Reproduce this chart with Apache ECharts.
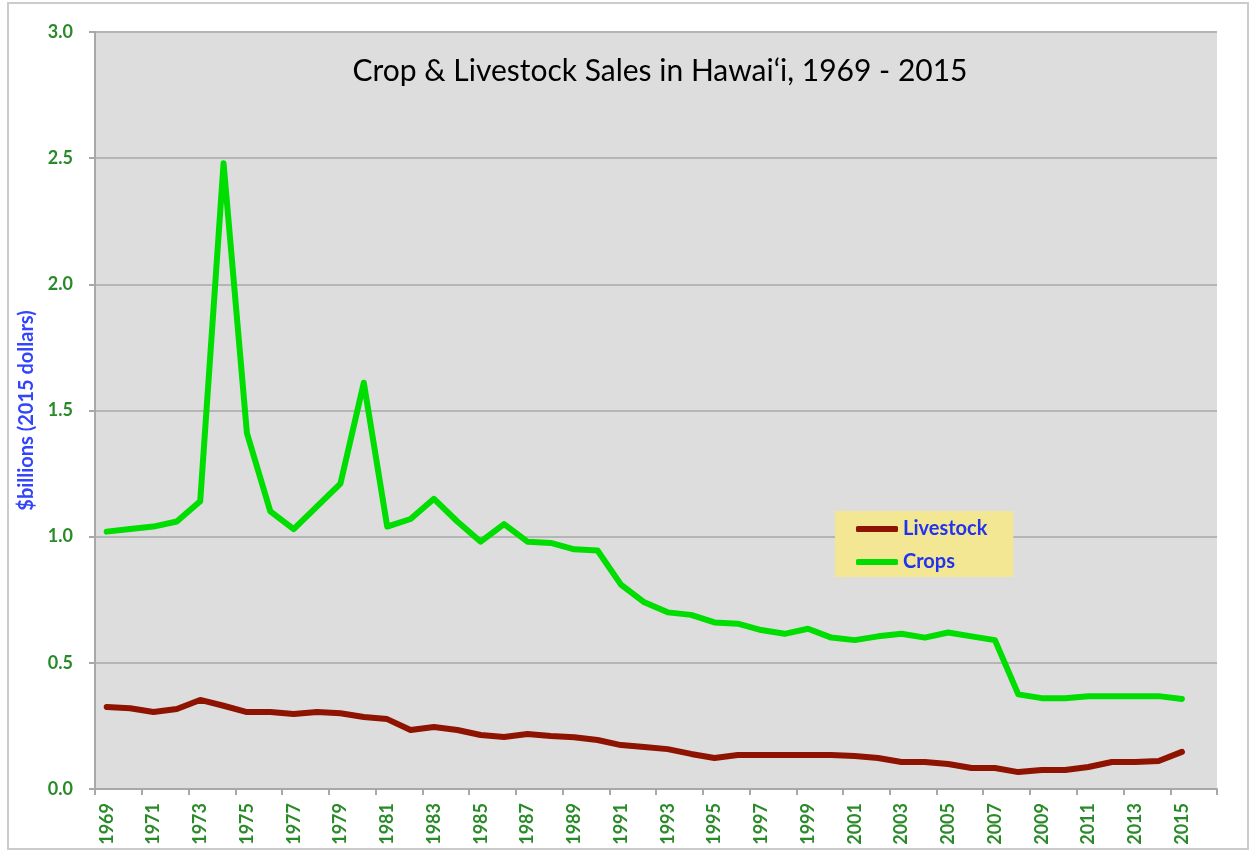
<!DOCTYPE html>
<html>
<head>
<meta charset="utf-8">
<script src="https://cdn.jsdelivr.net/npm/echarts@6/dist/echarts.min.js"></script>
<style>
  html, body { margin: 0; padding: 0; background: #fff; }
  #chart { width: 1251px; height: 852px; }
</style>
</head>
<body>
<div id="chart"></div>
<script>
// years 1969..2016 (last slot is empty, the axis runs one year past the data)
const years = [];
for (let y = 1969; y <= 2016; y++) years.push(String(y));

// $billions, 2015 dollars
const crops = [
  1.02, 1.03, 1.04, 1.06, 1.14, 2.48, 1.41, 1.10, 1.03, 1.12,
  1.21, 1.61, 1.04, 1.07, 1.15, 1.06, 0.98, 1.05, 0.98, 0.975,
  0.95, 0.945, 0.81, 0.74, 0.70, 0.69, 0.66, 0.655, 0.63, 0.615,
  0.635, 0.60, 0.59, 0.605, 0.615, 0.60, 0.62, 0.605, 0.59, 0.375,
  0.36, 0.36, 0.368, 0.368, 0.368, 0.368, 0.357, null
];
const livestock = [
  0.325, 0.32, 0.305, 0.317, 0.353, 0.33, 0.305, 0.305, 0.297, 0.305,
  0.30, 0.285, 0.277, 0.234, 0.246, 0.234, 0.214, 0.206, 0.218, 0.21,
  0.205, 0.194, 0.174, 0.166, 0.158, 0.139, 0.123, 0.135, 0.135, 0.135,
  0.135, 0.135, 0.131, 0.123, 0.107, 0.107, 0.099, 0.083, 0.083, 0.067,
  0.075, 0.075, 0.087, 0.107, 0.107, 0.111, 0.147, null
];

const green = '#00dd00';
const maroon = '#8e1300';
const labelGreen = '#2a8a2a';
const font = 'Lato, "Open Sans", sans-serif';

const chart = echarts.init(document.getElementById('chart'));
chart.setOption({
  animation: false,
  backgroundColor: '#ffffff',
  textStyle: { fontFamily: font },
  graphic: [
    {
      type: 'rect',
      z: -10,
      shape: { x: 8, y: 3, width: 1240, height: 846 },
      style: { fill: 'none', stroke: '#cccccc', lineWidth: 2 }
    }
  ],
  title: {
    text: 'Crop & Livestock Sales in Hawai\u2018i, 1969 - 2015',
    left: 655,
    top: 51,
    textAlign: 'center',
    textStyle: { fontSize: 30, fontWeight: 'normal', color: '#000', fontFamily: font }
  },
  legend: {
    orient: 'vertical',
    left: 835,
    top: 511,
    backgroundColor: '#f3e794',
    padding: [8, 26, 5, 21],
    itemGap: 13,
    itemWidth: 42,
    itemHeight: 6,
    icon: 'roundRect',
    textStyle: { color: '#2233ee', fontWeight: 'bold', fontSize: 20 },
    data: ['Livestock', 'Crops']
  },
  grid: {
    left: 95,
    right: 34,
    top: 32,
    bottom: 63,
    show: true,
    backgroundColor: '#dddddd',
    borderWidth: 0
  },
  xAxis: {
    type: 'category',
    data: years,
    boundaryGap: true,
    axisLine: { show: true, lineStyle: { color: '#a8a8a8', width: 2 } },
    axisTick: { show: true, length: 6, lineStyle: { color: '#a8a8a8', width: 2 } },
    axisLabel: {
      interval: 1,
      rotate: 90,
      color: labelGreen,
      fontWeight: 'bold',
      fontSize: 18,
      margin: 14
    },
    splitLine: { show: false }
  },
  yAxis: {
    type: 'value',
    min: 0,
    max: 3,
    interval: 0.5,
    name: '$billions (2015 dollars)',
    nameLocation: 'middle',
    nameGap: 54,
    nameTextStyle: { color: '#3344ff', fontWeight: 'bold', fontSize: 20 },
    axisLine: { show: true, lineStyle: { color: '#a8a8a8', width: 2 } },
    axisTick: { show: true, length: 6, lineStyle: { color: '#a8a8a8', width: 2 } },
    axisLabel: {
      color: labelGreen,
      fontWeight: 'bold',
      fontSize: 18,
      margin: 22,
      formatter: v => v.toFixed(1)
    },
    splitLine: { show: true, lineStyle: { color: '#b5b5b5', width: 2 } }
  },
  series: [
    {
      name: 'Livestock',
      type: 'line',
      data: livestock,
      showSymbol: false,
      symbol: 'none',
      color: maroon,
      lineStyle: { color: maroon, width: 6, cap: 'round', join: 'round' }
    },
    {
      name: 'Crops',
      type: 'line',
      data: crops,
      showSymbol: false,
      symbol: 'none',
      color: green,
      lineStyle: { color: green, width: 6, cap: 'round', join: 'round' }
    }
  ]
});
</script>
</body>
</html>
